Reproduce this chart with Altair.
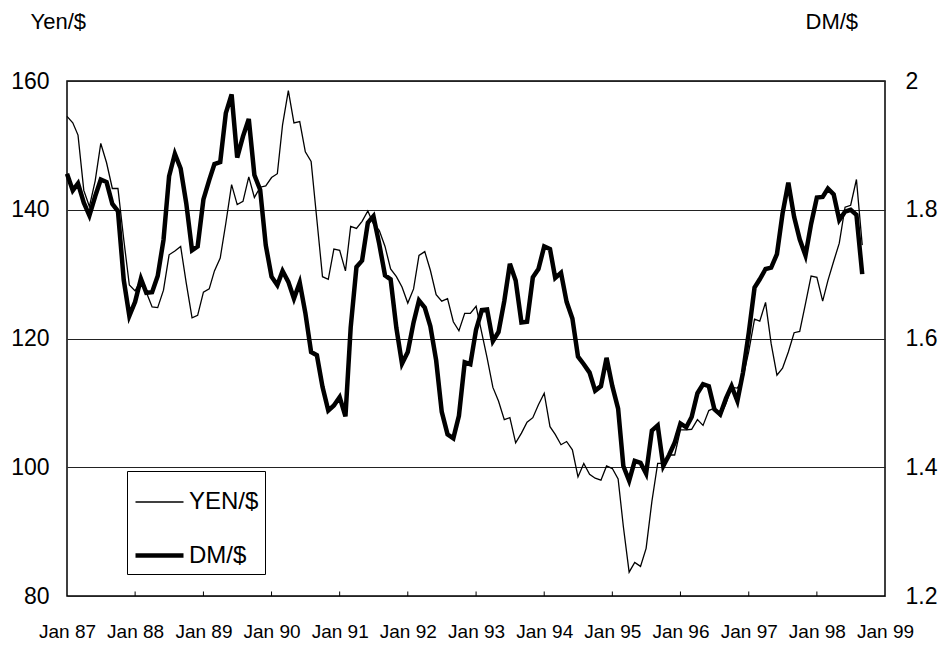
import altair as alt
import pandas as pd

FONT = "Liberation Sans, Arial, sans-serif"

# Monthly averages, Jan 1987 .. Sep 1998
yen = [
    154.5, 153.5, 151.6, 143.0, 140.5, 144.5, 150.3, 147.3, 143.3, 143.3, 135.4, 128.3,
    127.4, 129.1, 127.2, 124.9, 124.8, 127.5, 133.0, 133.6, 134.3, 128.6, 123.2, 123.6,
    127.2, 127.7, 130.5, 132.5, 137.9, 143.9, 140.8, 141.3, 145.1, 141.9, 143.5, 143.7,
    145.0, 145.6, 153.2, 158.5, 153.5, 153.7, 149.0, 147.5, 138.4, 129.6, 129.2, 133.9,
    133.7, 130.5, 137.4, 137.1, 138.2, 139.8, 137.8, 136.8, 134.3, 130.8, 129.6, 128.0,
    125.5, 127.7, 132.9, 133.5, 130.6, 126.8, 125.8, 126.2, 122.6, 121.2, 123.9, 123.9,
    125.0, 120.8, 117.0, 112.4, 110.3, 107.4, 107.7, 103.8, 105.3, 107.0, 107.7, 109.7,
    111.5, 106.3, 105.1, 103.5, 104.0, 102.7, 98.5, 100.6, 98.9, 98.3, 98.0, 100.2,
    99.8, 98.2, 90.8, 83.7, 85.2, 84.6, 87.4, 94.7, 100.6, 100.6, 101.9, 101.9,
    105.8, 105.8, 105.9, 107.4, 106.5, 108.8, 109.2, 107.9, 109.9, 112.4, 112.3, 113.9,
    118.0, 123.0, 122.7, 125.6, 119.2, 114.3, 115.4, 117.9, 120.9, 121.1, 125.4, 129.7,
    129.5, 125.8, 129.0, 132.0, 134.8, 140.4, 140.7, 144.7, 134.5,
]

dm = [
    1.856, 1.830, 1.841, 1.811, 1.791, 1.821, 1.847, 1.843, 1.809, 1.798, 1.691, 1.635,
    1.657, 1.693, 1.671, 1.672, 1.697, 1.753, 1.852, 1.887, 1.864, 1.810, 1.737, 1.743,
    1.816, 1.846, 1.871, 1.874, 1.950, 1.979, 1.881, 1.914, 1.941, 1.854, 1.831, 1.745,
    1.696, 1.683, 1.705, 1.688, 1.662, 1.687, 1.640, 1.579, 1.574, 1.525, 1.488, 1.496,
    1.509, 1.479, 1.617, 1.711, 1.721, 1.780, 1.790, 1.747, 1.698, 1.692, 1.616, 1.561,
    1.579, 1.625, 1.659, 1.648, 1.619, 1.566, 1.486, 1.451, 1.445, 1.480, 1.563, 1.560,
    1.614, 1.644, 1.645, 1.596, 1.610, 1.658, 1.716, 1.690, 1.625, 1.626, 1.695, 1.708,
    1.743, 1.739, 1.694, 1.702, 1.657, 1.631, 1.572, 1.560, 1.547, 1.519, 1.526, 1.570,
    1.526, 1.491, 1.402, 1.379, 1.410, 1.407, 1.390, 1.457, 1.465, 1.402, 1.419, 1.438,
    1.468, 1.462, 1.478, 1.515, 1.529, 1.526, 1.490, 1.482, 1.507, 1.526, 1.503, 1.547,
    1.609, 1.679, 1.692, 1.708, 1.710, 1.731, 1.794, 1.842, 1.789, 1.754, 1.729, 1.778,
    1.819, 1.820, 1.833, 1.824, 1.784, 1.797, 1.800, 1.792, 1.700,
]

series_names = ["YEN/$", "DM/$"]
yen_ticks = [80, 100, 120, 140, 160]
dm_ticks = [1.2, 1.4, 1.6, 1.8, 2.0]
years = list(range(1987, 2000))

months = list(pd.date_range("1987-01-01", periods=len(yen), freq="MS").strftime("%Y-%m-%dT00:00:00"))
yen_df = pd.DataFrame({"date": months, "value": yen, "series": series_names[0]})
dm_df = pd.DataFrame({"date": months, "value": dm, "series": series_names[1]})
tick_df = pd.DataFrame({"date": [f"{y}-01-01T00:00:00" for y in years[1:-1]]})

x_enc = alt.X(
    "date:T",
    scale=alt.Scale(domain=[alt.DateTime(year=1987, month=1, date=1),
                            alt.DateTime(year=1999, month=1, date=1)]),
    axis=alt.Axis(values=[alt.DateTime(year=y, month=1, date=1) for y in years],
                  format="%b %y", title=None, labelFontSize=19, labelPadding=26,
                  ticks=False, domain=False, grid=False, labelFont=FONT,
                  labelColor="black", labelFlush=False, labelOverlap=False),
)

color_enc = alt.Color("series:N", scale=alt.Scale(domain=series_names, range=["black", "black"]),
                      legend=alt.Legend(title=None))
width_enc = alt.StrokeWidth("series:N", scale=alt.Scale(domain=series_names, range=[1.3, 4.5]),
                            legend=alt.Legend(title=None))

yen_scale = alt.Scale(domain=[80, 160], nice=False, zero=False)

yen_line = alt.Chart(yen_df).mark_line(strokeJoin="miter").encode(
    x=x_enc,
    y=alt.Y("value:Q", scale=yen_scale,
            axis=alt.Axis(values=yen_ticks, title="Yen/$", titleAngle=0, titleX=-37, titleY=-53,
                          titleAlign="left", titleBaseline="alphabetic", titleFontSize=22,
                          titleFontWeight="normal", titleFont=FONT, titleColor="black",
                          labelFontSize=23, labelPadding=18, labelFont=FONT, labelColor="black",
                          ticks=False, domain=False, grid=True, gridColor="#222", gridWidth=1)),
    color=color_enc,
    strokeWidth=width_enc,
)

ticks = alt.Chart(tick_df).mark_rule(color="black", strokeWidth=1).encode(
    x=alt.X("date:T"),
    y=alt.Y(datum=80, scale=yen_scale),
    y2=alt.Y2(datum=80.7),
)

dm_line = alt.Chart(dm_df).mark_line(strokeJoin="miter").encode(
    x=x_enc,
    y=alt.Y("value:Q", scale=alt.Scale(domain=[1.2, 2.0], nice=False, zero=False),
            axis=alt.Axis(values=dm_ticks, format="~g", orient="right", title="DM/$",
                          titleAngle=0, titleX=-80, titleY=-53, titleAlign="left",
                          titleBaseline="alphabetic", titleFontSize=22, titleFontWeight="normal",
                          titleFont=FONT, titleColor="black",
                          labelFontSize=23, labelPadding=20, labelFont=FONT, labelColor="black",
                          ticks=False, domain=False, grid=False)),
    color=color_enc,
    strokeWidth=width_enc,
)

chart = alt.layer(alt.layer(yen_line, ticks), dm_line).resolve_scale(
    y="independent"
).properties(
    width=818,
    height=515,
    autosize=alt.AutoSizeParams(type="none"),
    padding={"left": 59, "top": 73, "right": 56, "bottom": 48},
    background="white",
).configure_view(
    stroke="black", strokeWidth=1.5
).configure_legend(
    orient="none", legendX=60, legendY=390, strokeColor="black", fillColor="white",
    padding=6, symbolType="stroke", symbolSize=2304, symbolStrokeColor="black",
    labelFontSize=24, labelFont=FONT, labelColor="black", rowPadding=15, labelOffset=3,
    cornerRadius=0,
)

chart.save("out.html", embed_options={"renderer": "svg", "actions": False})
